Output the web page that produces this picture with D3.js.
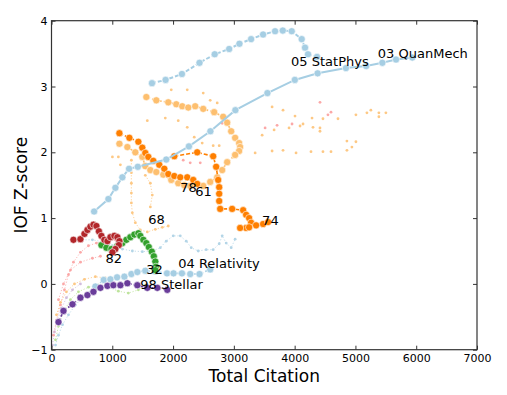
<!DOCTYPE html>
<html><head><meta charset="utf-8">
<script src="https://cdn.jsdelivr.net/npm/d3@7"></script>
<style>
html,body{margin:0;padding:0;background:#fff;}
svg{display:block;font-family:"DejaVu Sans",sans-serif;}
</style></head><body>
<svg id="c" width="507" height="395"></svg>
<script>
// ---- tick values ----
const xTicks = [0, 1000, 2000, 3000, 4000, 5000, 6000, 7000];
const yTicks = [-1, 0, 1, 2, 3, 4];

// ---- series values [Total Citation, IOF Z-score] ----
const statPhys = [[1653,3.05],[1877,3.10],[2146,3.19],[2435,3.36],[2685,3.49],[2923,3.57],[3092,3.65],[3284,3.72],[3481,3.79],[3678,3.84],[3805,3.85],[3952,3.84],[4116,3.72],[4171,3.59],[4220,3.49],[4368,3.45]];
const quanMech = [[701,1.10],[936,1.29],[1051,1.46],[1166,1.62],[1276,1.75],[1420,1.78],[1888,1.89],[2261,2.09],[2614,2.32],[3025,2.64],[3552,2.90],[4003,3.10],[4378,3.20],[4844,3.28],[5177,3.31],[5443,3.36],[5668,3.41],[5936,3.44]];
const relativityEarly = [[66,-0.93],[115,-0.78],[181,-0.62],[279,-0.47],[394,-0.32],[509,-0.21],[640,-0.12]];
const relativityLoop = [[509,0.67],[673,0.67],[837,0.64],[1002,0.58],[1166,0.53],[1330,0.50],[1494,0.49],[1658,0.50],[1790,0.55],[1888,0.65],[2003,0.73],[2118,0.73],[2217,0.65],[2299,0.55],[2414,0.50],[2545,0.52],[2660,0.52],[2759,0.61],[2808,0.73],[2874,0.62],[2956,0.55],[3021,0.68]];
const relativity = [[722,-0.04],[859,0.06],[969,0.07],[1079,0.10],[1199,0.11],[1314,0.15],[1412,0.18],[1543,0.20],[1708,0.19],[1900,0.16],[2008,0.16],[2146,0.16],[2282,0.15],[2435,0.15],[2611,0.22]];
const stellar = [[115,-0.58],[197,-0.41],[345,-0.31],[476,-0.21],[591,-0.17],[690,-0.12],[805,-0.06],[920,-0.03],[1018,-0.02],[1133,-0.02],[1248,0.01],[1412,-0.02],[1576,-0.06],[1741,-0.06],[1905,-0.09]];
const field32 = [[821,0.59],[903,0.55],[985,0.53],[1084,0.58],[1166,0.62],[1232,0.67],[1297,0.71],[1363,0.75],[1429,0.77],[1461,0.73],[1511,0.67],[1560,0.62],[1601,0.56],[1650,0.49],[1683,0.42],[1708,0.34],[1716,0.26],[1708,0.21]];
const field82 = [[361,0.67],[476,0.68],[542,0.76],[591,0.82],[640,0.87],[690,0.90],[739,0.88],[780,0.80],[821,0.73],[870,0.67],[920,0.65],[969,0.71],[1034,0.73],[1084,0.71],[1117,0.65],[1108,0.59],[1051,0.53],[1002,0.48]];
const field61 = [[1117,2.29],[1281,2.22],[1429,2.16],[1494,2.07],[1543,1.99],[1593,1.93],[1675,1.87],[1773,1.81],[1856,1.75],[1921,1.67],[2020,1.64],[2118,1.62],[2233,1.62],[2332,1.58],[2397,1.52]];
const field74 = [[2020,1.94],[2397,2.00],[2660,1.94],[2709,1.78],[2742,1.58],[2759,1.47],[2759,1.37],[2759,1.26],[2775,1.14],[2972,1.14],[3153,1.12],[3202,1.05],[3251,1.00],[3284,0.93],[3202,0.85],[3103,0.85],[3251,0.86],[3366,0.89],[3481,0.91],[3563,0.94]];
const field78 = [[1117,2.13],[1248,2.08],[1379,2.00],[1494,1.93],[1543,1.79],[1626,1.73],[1724,1.70],[1839,1.66],[1970,1.58],[2085,1.53],[2184,1.50],[2282,1.49]];
const field78b = [[1560,2.84],[1724,2.79],[1921,2.76],[2053,2.73],[2151,2.70],[2250,2.68],[2364,2.70],[2496,2.66],[2676,2.61],[2824,2.54],[2890,2.45],[2956,2.32],[3021,2.22],[3087,2.14],[3103,2.08],[3087,2.02],[3021,1.96],[2890,1.85],[2808,1.73],[2726,1.62],[2611,1.55],[2496,1.49]];
const field68 = [[1314,1.88],[1314,1.69],[1314,1.53],[1314,1.38],[1314,1.23],[1330,1.08],[1379,0.93],[1461,0.82],[1576,0.79],[1708,0.83],[1823,0.86],[1921,0.88]];
const field68b = [[1543,1.65],[1626,1.53],[1658,1.35],[1626,1.17]];
const scatterLightOrange = [[1970,2.95],[2233,2.95],[2496,2.90],[2611,2.79],[2726,2.75],[1576,2.48],[1872,2.52],[2085,2.48],[2233,2.38],[2348,2.23],[2479,2.14],[2660,2.10],[2759,2.10],[1002,1.93],[1100,1.93],[1133,1.81],[3629,2.69],[3809,2.64],[4006,2.55],[4286,2.52],[4466,2.51],[4713,2.51],[5008,2.57],[5189,2.60],[5254,2.64],[5386,2.60],[5501,2.60],[5386,2.54],[3662,2.34],[3908,2.37],[4089,2.40],[4138,2.43],[4302,2.38],[4417,2.37],[4417,2.32],[3465,2.26],[3629,2.02],[3809,2.03],[4023,1.99],[4269,2.01],[4466,2.01],[4598,2.01],[4860,2.03],[4942,2.08],[5008,2.16],[4860,2.17],[3350,1.99]];
const scatterPink = [[4417,2.76],[4598,2.61],[4548,2.57],[3514,2.37],[3711,2.41],[3957,2.43],[2167,1.88],[2282,1.84],[2447,1.84],[2808,2.44]];
const pinkA = [[33,-0.78],[82,-0.55],[148,-0.32],[213,-0.09],[279,0.14],[361,0.33],[476,0.48],[608,0.58],[739,0.62],[887,0.65],[1051,0.67],[1215,0.64]];
const pinkB = [[115,-0.24],[197,0.00],[312,0.21],[476,0.33],[673,0.39],[805,0.42]];
const lightGreen = [[66,-0.85],[115,-0.64],[197,-0.43],[312,-0.24],[443,-0.12],[608,-0.05],[772,-0.02],[936,-0.05],[1100,-0.11],[1264,-0.14],[1429,-0.09],[1543,-0.02]];
const lightPurple = [[16,-0.93],[49,-0.73],[99,-0.55],[164,-0.37],[246,-0.21],[345,-0.09],[476,0.00]];
const lightOrangeLow = [[82,-0.47],[148,-0.28],[246,-0.12],[378,0.00],[542,0.07],[722,0.11],[887,0.09]];

// ---- annotations ----
const labelText = ["03 QuanMech","05 StatPhys","04 Relativity","98 Stellar","32","82","68","78","61","74"];
const labelX = [5369, 3941, 2085, 1461, 1560, 887, 1593, 2118, 2364, 3465];
const labelY = [3.44, 3.31, 0.24, -0.07, 0.15, 0.32, 0.91, 1.40, 1.33, 0.895];

// ---- drawing ----
const svg = d3.select("#c");
const L = 51.5, R = 477, T = 20.7, B = 349.7;
const x = d3.scaleLinear().domain([0, 7000]).range([L, R]);
const y = d3.scaleLinear().domain([-1, 4]).range([B, T]);

const C = {lb:"#a6cee3", or:"#ff7f00", lo:"#fdbf6f", gr:"#33a02c", rd:"#b2262a", pu:"#6a3d9a", pk:"#fb9a99", lg:"#b2df8a", lp:"#cab2d6"};
const small = {r:1.4, lw:0.8, dash:"1.2,1.8", stroke:"none", op:0.85};
const big = {r:3.6, lw:1.6, dash:"4,2", stroke:"#fff", op:1};

const series = [
  {d:lightPurple, c:C.lp, ...small},
  {d:lightGreen, c:C.lg, ...small},
  {d:pinkA, c:C.pk, ...small},
  {d:pinkB, c:C.pk, ...small},
  {d:lightOrangeLow, c:C.lo, ...small},
  {d:relativityEarly, c:C.lb, ...small},
  {d:relativityLoop, c:C.lb, ...small},
  {d:field68, c:C.lo, ...small},
  {d:field68b, c:C.lo, ...small},
  {d:scatterLightOrange, c:C.lo, ...small, noLine:true},
  {d:scatterPink, c:C.pk, ...small, noLine:true},
  {d:relativity, c:C.lb, ...big},
  {d:stellar, c:C.pu, ...big},
  {d:field32, c:C.gr, ...big},
  {d:field82, c:C.rd, ...big},
  {d:field78, c:C.lo, ...big},
  {d:field78b, c:C.lo, ...big},
  {d:field61, c:C.or, ...big},
  {d:field74, c:C.or, ...big},
  {d:statPhys, c:C.lb, ...big, lw:2},
  {d:quanMech, c:C.lb, ...big, lw:2, dash:null}
];

const line = d3.line().x(d => x(d[0])).y(d => y(d[1]));
const gData = svg.append("g");
series.forEach(s => {
  const g = gData.append("g").attr("opacity", s.op);
  if (!s.noLine) {
    g.append("path").attr("d", line(s.d)).attr("fill", "none")
      .attr("stroke", s.c).attr("stroke-width", s.lw)
      .attr("stroke-dasharray", s.dash);
  }
  g.selectAll("circle").data(s.d).join("circle")
    .attr("cx", d => x(d[0])).attr("cy", d => y(d[1])).attr("r", s.r)
    .attr("fill", s.c).attr("stroke", s.stroke).attr("stroke-width", 0.6);
});

// labels
svg.append("g").selectAll("text").data(labelText).join("text")
  .attr("x", (d, i) => x(labelX[i])).attr("y", (d, i) => y(labelY[i]))
  .attr("font-size", 13).attr("fill", "#000").text(d => d);

// axes
const axisColor = "#333";
function styleAxis(g) {
  g.select(".domain").remove();
  g.selectAll(".tick line").attr("stroke", axisColor).attr("stroke-width", 1);
  g.selectAll(".tick text").attr("font-size", 11).attr("fill", "#000").attr("font-family", "DejaVu Sans");
}
svg.append("g").attr("transform", `translate(0,${B})`)
  .call(d3.axisBottom(x).tickValues(xTicks).tickSize(-4).tickPadding(5).tickFormat(d3.format("d")))
  .call(styleAxis);
svg.append("g").attr("transform", `translate(0,${T})`)
  .call(d3.axisTop(x).tickValues(xTicks).tickSize(-4).tickFormat(""))
  .call(styleAxis);
svg.append("g").attr("transform", `translate(${L},0)`)
  .call(d3.axisLeft(y).tickValues(yTicks).tickSize(-4).tickPadding(4).tickFormat(d3.format("d")))
  .call(styleAxis);
svg.append("g").attr("transform", `translate(${R},0)`)
  .call(d3.axisRight(y).tickValues(yTicks).tickSize(-4).tickFormat(""))
  .call(styleAxis);

svg.append("rect").attr("x", L).attr("y", T).attr("width", R - L).attr("height", B - T)
  .attr("fill", "none").attr("stroke", axisColor).attr("stroke-width", 1.2);

svg.append("text").attr("x", (L + R) / 2).attr("y", 382).attr("text-anchor", "middle")
  .attr("font-size", 17).text("Total Citation");
svg.append("text").attr("transform", `translate(27,${(T + B) / 2}) rotate(-90)`)
  .attr("text-anchor", "middle").attr("font-size", 17).text("IOF Z-score");
</script>
</body></html>
